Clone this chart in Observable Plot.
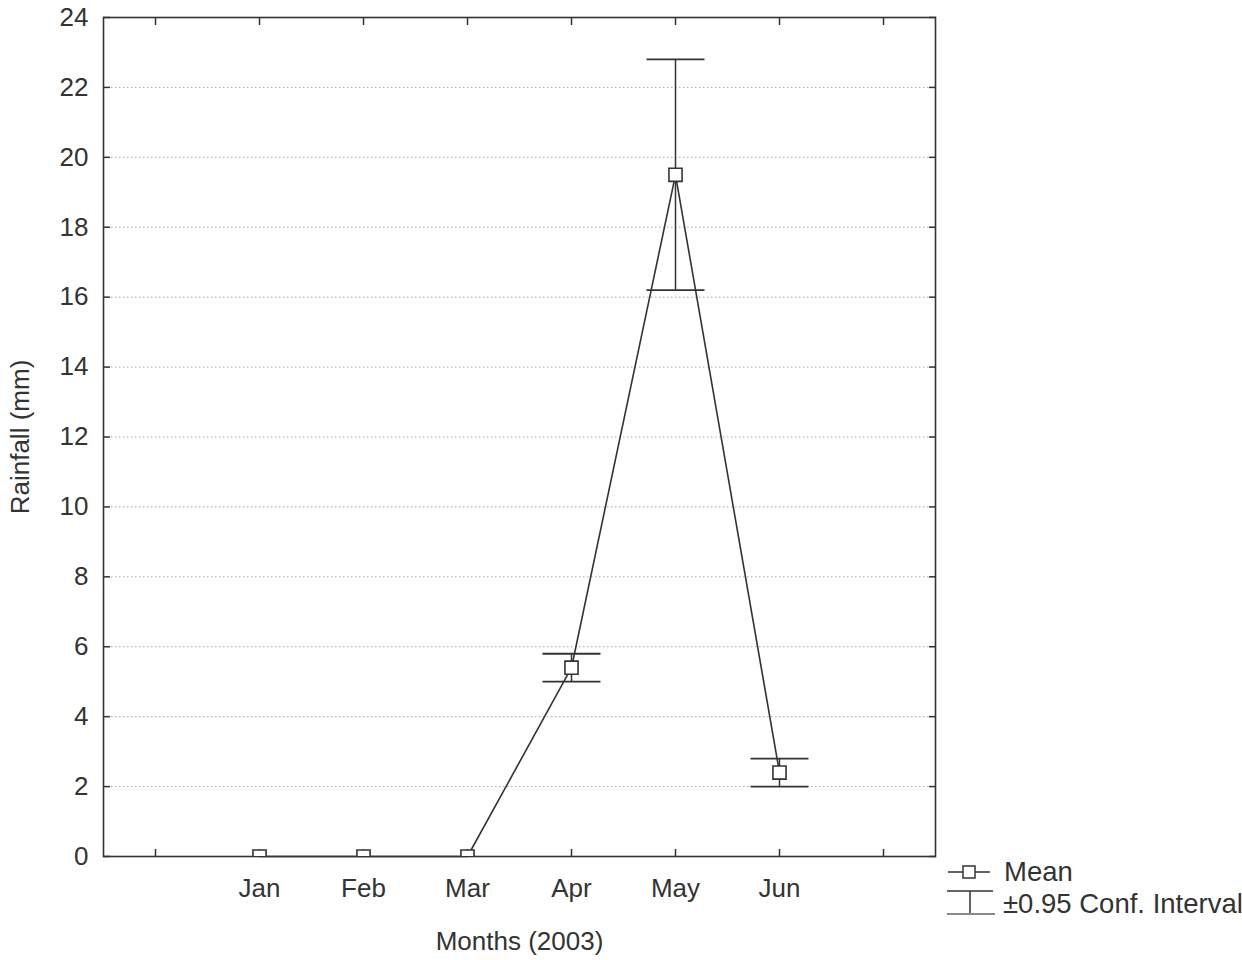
<!DOCTYPE html>
<html>
<head>
<meta charset="utf-8">
<script src="https://cdn.jsdelivr.net/npm/d3@7"></script>
<script src="https://cdn.jsdelivr.net/npm/@observablehq/plot@0.6"></script>
<style>
  html, body { margin: 0; padding: 0; background: #fff; overflow: hidden; }
  #wrap { position: relative; width: 1242px; height: 960px; overflow: hidden; background: #fff; }
  #legend { position: absolute; left: 0; top: 0; }
</style>
</head>
<body>
<div id="wrap"></div>
<script>
// ---- data ----
const months = ["Jan", "Feb", "Mar", "Apr", "May", "Jun"];
const meanRain = [0, 0, 0, 5.4, 19.5, 2.4];
const ciLow = [0, 0, 0, 5.0, 16.2, 2.0];
const ciHigh = [0, 0, 0, 5.8, 22.8, 2.8];
const yTicks = [0, 2, 4, 6, 8, 10, 12, 14, 16, 18, 20, 22, 24];
const xSlots = [1, 2, 3, 4, 5, 6, 7, 8]; // category slots; months occupy slots 2..7

const data = months.map((m, i) => ({
  month: m, pos: i + 2, mean: meanRain[i], lo: ciLow[i], hi: ciHigh[i]
}));
const withCI = data.filter(d => d.hi > d.lo);

const ink = "#333";
const font = "Liberation Sans, Arial, sans-serif";

const capSymbol = {
  draw(ctx, size) {
    const r = Math.sqrt(size / Math.PI);
    ctx.moveTo(-r, 0);
    ctx.lineTo(r, 0);
  }
};

const chart = Plot.plot({
  width: 1242,
  height: 960,
  marginLeft: 103,
  marginRight: 307,
  marginTop: 17,
  marginBottom: 104,
  style: { fontFamily: font, fontSize: "26px", color: ink, background: "#fff" },
  x: { domain: [0.5, 8.5] },
  y: { domain: [0, 24] },
  marks: [
    Plot.gridY(yTicks, { stroke: "#aaa", strokeOpacity: 1, strokeDasharray: "1.5,2.5" }),
    Plot.frame({ stroke: ink, strokeWidth: 1.6 }),
    // inward tick marks
    Plot.axisX(xSlots, { anchor: "bottom", tickSize: -7, text: null, label: null, stroke: ink, strokeWidth: 1.5 }),
    Plot.axisX(xSlots, { anchor: "top", tickSize: -7, text: null, label: null, stroke: ink, strokeWidth: 1.5 }),
    Plot.axisY(yTicks, { anchor: "left", tickSize: -7, text: null, label: null, stroke: ink, strokeWidth: 1.5 }),
    Plot.axisY(yTicks, { anchor: "right", tickSize: -7, text: null, label: null, stroke: ink, strokeWidth: 1.5 }),
    // tick labels and titles
    Plot.axisX(xSlots, {
      anchor: "bottom", tickSize: 0, tickPadding: 22,
      tickFormat: d => months[d - 2] ?? "",
      label: "Months (2003)", labelAnchor: "center", labelArrow: "none", labelOffset: 93,
      fill: ink
    }),
    Plot.axisY(yTicks, {
      anchor: "left", tickSize: 0, tickPadding: 15,
      label: "Rainfall (mm)", labelAnchor: "center", labelArrow: "none", labelOffset: 93,
      fill: ink
    }),
    // CI whiskers
    Plot.ruleX(data, { x: "pos", y1: "lo", y2: "hi", stroke: ink, strokeWidth: 1.5 }),
    Plot.dot(withCI, { x: "pos", y: "hi", symbol: capSymbol, r: 29, stroke: ink, strokeWidth: 1.8, fill: "none" }),
    Plot.dot(withCI, { x: "pos", y: "lo", symbol: capSymbol, r: 29, stroke: ink, strokeWidth: 1.8, fill: "none" }),
    // mean line
    Plot.line(data, { x: "pos", y: "mean", stroke: ink, strokeWidth: 1.6 }),
    Plot.dot(data, { x: "pos", y: "mean", symbol: "square", r: 7.4, fill: "#fff", stroke: ink, strokeWidth: 1.6, clip: true })
  ]
});

const wrap = document.getElementById("wrap");
wrap.appendChild(chart);

// ---- legend (SVG overlay, bottom right) ----
const legendItems = ["Mean", "\u00b10.95 Conf. Interval"];
const ns = "http://www.w3.org/2000/svg";
const lg = document.createElementNS(ns, "svg");
lg.setAttribute("id", "legend");
lg.setAttribute("width", 1242);
lg.setAttribute("height", 960);
lg.style.fontFamily = font;
lg.style.fontSize = "27.5px";
function el(tag, attrs, text) {
  const e = document.createElementNS(ns, tag);
  for (const k in attrs) e.setAttribute(k, attrs[k]);
  if (text) e.textContent = text;
  lg.appendChild(e);
  return e;
}
// Mean symbol
el("line", { x1: 948, x2: 990, y1: 872, y2: 872, stroke: ink, "stroke-width": 1.5 });
el("rect", { x: 963, y: 866, width: 12, height: 12, fill: "#fff", stroke: ink, "stroke-width": 1.5 });
el("text", { x: 1004, y: 881, fill: ink }, legendItems[0]);
// CI symbol
el("line", { x1: 947, x2: 993, y1: 891, y2: 891, stroke: ink, "stroke-width": 1.5 });
el("line", { x1: 970, x2: 970, y1: 891, y2: 914, stroke: ink, "stroke-width": 1.5 });
el("line", { x1: 947, x2: 995, y1: 914, y2: 914, stroke: "#888", "stroke-width": 2 });
el("text", { x: 1003, y: 913, fill: ink }, legendItems[1]);
wrap.appendChild(lg);
</script>
</body>
</html>
